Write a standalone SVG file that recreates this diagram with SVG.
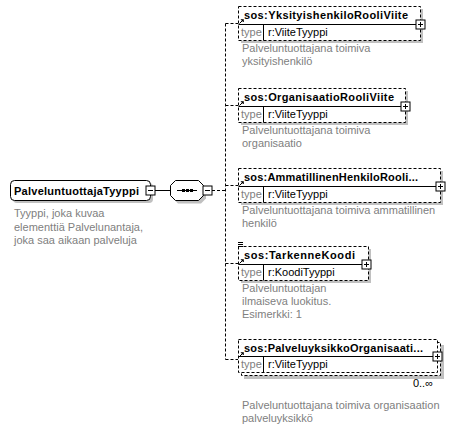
<svg xmlns="http://www.w3.org/2000/svg" width="457" height="428" viewBox="0 0 457 428">
<defs>
<style>
.bg{fill:#fff}
.sh{fill:#c0c0c0}
.box{fill:#fff;stroke:#000;stroke-width:1}
.dbox{fill:#fff;stroke:#000;stroke-width:1;stroke-dasharray:3,2}
.ln{stroke:#000;stroke-width:1;fill:none}
.dln{stroke:#000;stroke-width:1;fill:none;stroke-dasharray:3,2}
.t{font-family:"Liberation Sans",Arial,sans-serif;font-size:11px;fill:#000}
.b{font-weight:bold}
.g{fill:#808080}
</style>
<g id="plus"><rect x="-4.5" y="-4.5" width="9" height="9" class="box"/><path d="M-2.5 0H2.5M0 -2.5V2.5" class="ln"/></g>
<g id="minus"><rect x="-4.5" y="-4.5" width="9" height="9" class="box"/><path d="M-2.5 0H2.5" class="ln"/></g>
<g id="ref"><path d="M0.5 5.5L4 2" class="ln"/><path d="M2 1.5H4.5V4Z" fill="#000" stroke="#000" stroke-width="0.6"/></g>
</defs>
<rect width="457" height="428" class="bg"/>

<g id="connectors">
<path d="M155 190.5H170" class="ln"/>
<path d="M212 190.5H225.5" class="dln"/>
<path d="M225.5 23.5V359.5" class="dln"/>
<path d="M225.5 23.5H238" class="dln"/>
<path d="M225.5 105.5H238" class="dln"/>
<path d="M225.5 185.5H238" class="dln"/>
<path d="M225.5 263.5H238" class="dln"/>
<path d="M225.5 359.5H238" class="dln"/>
</g>

<g id="PalveluntuottajaTyyppi">
<rect x="13" y="183" width="140" height="20" rx="4" class="sh"/>
<rect x="10.5" y="180.5" width="140" height="20" rx="4" class="box"/>
<text x="14" y="194.5" class="t b" textLength="125">PalveluntuottajaTyyppi</text>
<use href="#minus" x="150.5" y="190.5"/>
<text class="t g"><tspan x="14" y="217">Tyyppi, joka kuvaa</tspan><tspan x="14" y="231">elementtiä Palvelunantaja,</tspan><tspan x="14" y="244">joka saa aikaan palveluja</tspan></text>
</g>

<g id="sequence">
<path d="M178 183.5H201L206 188.5V198.5L201 203.5H178L173 198.5V188.5Z" class="sh"/>
<path d="M175.5 180.5H198.5L203.5 185.5V195.5L198.5 200.5H175.5L170.5 195.5V185.5Z" class="box"/>
<path d="M177 190.5H197" class="ln"/>
<rect x="182" y="189" width="3" height="3" fill="#000"/>
<rect x="186" y="189" width="3" height="3" fill="#000"/>
<rect x="190" y="189" width="3" height="3" fill="#000"/>
<use href="#minus" x="207.5" y="190.5"/>
</g>

<g id="YksityishenkiloRooliViite">
<rect x="241" y="9" width="182" height="34" class="sh"/>
<rect x="238.5" y="6.5" width="182" height="34" class="dbox"/>
<path d="M238.5 24.5H420.5M263.5 24.5V40.5" class="ln"/>
<use href="#ref" x="239" y="18"/>
<text x="244" y="19" class="t b" textLength="164">sos:YksityishenkiloRooliViite</text>
<text x="241" y="36" class="t g">type</text>
<text x="268" y="36" class="t">r:ViiteTyyppi</text>
<use href="#plus" x="420.5" y="24.5"/>
<text class="t g"><tspan x="242" y="52">Palveluntuottajana toimiva</tspan><tspan x="242" y="65">yksityishenkilö</tspan></text>
</g>

<g id="OrganisaatioRooliViite">
<rect x="241" y="91" width="167" height="34" class="sh"/>
<rect x="238.5" y="88.5" width="167" height="34" class="dbox"/>
<path d="M238.5 106.5H405.5M263.5 106.5V122.5" class="ln"/>
<use href="#ref" x="239" y="100"/>
<text x="244" y="101" class="t b" textLength="150">sos:OrganisaatioRooliViite</text>
<text x="241" y="118" class="t g">type</text>
<text x="268" y="118" class="t">r:ViiteTyyppi</text>
<use href="#plus" x="405.5" y="106.5"/>
<text class="t g"><tspan x="242" y="134">Palveluntuottajana toimiva</tspan><tspan x="242" y="147">organisaatio</tspan></text>
</g>

<g id="AmmatillinenHenkiloRooliViite">
<rect x="241" y="171" width="202" height="34" class="sh"/>
<rect x="238.5" y="168.5" width="202" height="34" class="dbox"/>
<path d="M238.5 186.5H440.5M263.5 186.5V202.5" class="ln"/>
<use href="#ref" x="239" y="180"/>
<text x="244" y="181" class="t b" textLength="174">sos:AmmatillinenHenkiloRooli...</text>
<text x="241" y="198" class="t g">type</text>
<text x="268" y="198" class="t">r:ViiteTyyppi</text>
<use href="#plus" x="440.5" y="186.5"/>
<text class="t g"><tspan x="242" y="214">Palveluntuottajana toimiva ammatillinen</tspan><tspan x="242" y="227">henkilö</tspan></text>
</g>

<g id="TarkenneKoodi">
<rect x="241" y="249" width="130" height="34" class="sh"/>
<rect x="238.5" y="246.5" width="130" height="34" class="dbox"/>
<path d="M238.5 264.5H368.5M263.5 264.5V280.5" class="ln"/>
<path d="M238 242.5H243M238 244.5H243M238 246.5H243" class="ln"/>
<use href="#ref" x="239" y="258"/>
<text x="244" y="259" class="t b" textLength="111">sos:TarkenneKoodi</text>
<text x="241" y="276" class="t g">type</text>
<text x="268" y="276" class="t">r:KoodiTyyppi</text>
<use href="#plus" x="366.5" y="264.5"/>
<text class="t g"><tspan x="242" y="292">Palveluntuottajan</tspan><tspan x="242" y="305">ilmaiseva luokitus.</tspan><tspan x="242" y="318">Esimerkki: 1</tspan></text>
</g>

<g id="PalveluyksikkoOrganisaatioViite">
<rect x="244" y="345" width="200" height="34" class="sh"/>
<rect x="241.5" y="342.5" width="199" height="33" class="dbox"/>
<rect x="238.5" y="339.5" width="199" height="33" class="dbox"/>
<path d="M238.5 356.5H437.5M263.5 356.5V372.5" class="ln"/>
<use href="#ref" x="239" y="351"/>
<text x="244" y="352" class="t b" textLength="179">sos:PalveluyksikkoOrganisaati...</text>
<text x="241" y="368" class="t g">type</text>
<text x="268" y="368" class="t">r:ViiteTyyppi</text>
<use href="#plus" x="437.5" y="356.5"/>
<text x="433" y="387" class="t" text-anchor="end">0..∞</text>
<text class="t g"><tspan x="242" y="409">Palveluntuottajana toimiva organisaation</tspan><tspan x="242" y="422">palveluyksikkö</tspan></text>
</g>
</svg>
